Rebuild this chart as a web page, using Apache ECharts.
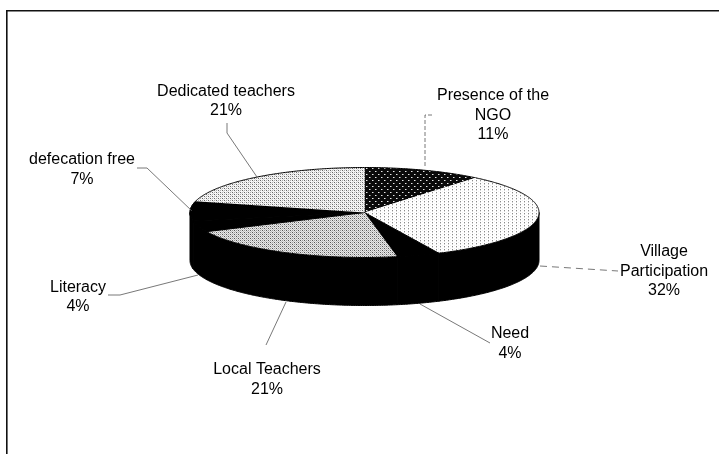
<!DOCTYPE html>
<html><head><meta charset="utf-8">
<style>html,body{margin:0;padding:0;background:#fff}#c{width:719px;height:454px}</style>
<script src="https://cdn.jsdelivr.net/npm/echarts@6/dist/echarts.min.js"></script>
</head><body><div id="c"></div>
<script>
var categories = ['Presence of the\nNGO','Village\nParticipation','Need','Local Teachers','Literacy','defecation free','Dedicated teachers'];
var shares = [11,32,4,21,4,7,21];

// Layout (pixels), kept apart from the data
var labelCentres = [[493,115.5],[664,271.5],[510,343.5],[267,379.5],[78,297],[82,169.5],[226,101]];
var leaderPaths = [
  [[432,115],[425,115],[425,168]],
  [[540,266],[618,271]],
  [[420,304],[490,343]],
  [[286,302],[266,345]],
  [[198,275],[120,295],[108,295]],
  [[137,168],[147,168],[192,211]],
  [[227,123],[227,133],[257,177]]
];
var leaderDash = [[4,2],[7,5],null,null,null,null,null];
var CX=364.5, CY=212.5, RX=174.5, RY=45, DEPTH=48;

function tile(w,h,bg,cells){
  var c=document.createElement('canvas');c.width=w;c.height=h;
  var g=c.getContext('2d');g.fillStyle=bg;g.fillRect(0,0,w,h);
  cells.forEach(function(p){g.fillStyle=p[2];g.fillRect(p[0],p[1],1,1);});
  return {image:c,repeat:'repeat'};
}
var fills = [
  tile(6,6,'#0a0a0a',[[0,0,'#e8e8e8'],[3,3,'#e8e8e8'],[1,0,'#777'],[4,3,'#777']]),
  tile(4,3,'#ffffff',[[0,0,'#8a8a8a'],[0,1,'#d4d4d4'],[2,2,'#eeeeee']]),
  '#000000',
  tile(4,4,'#e8e8e8',[[0,0,'#555'],[2,2,'#555'],[2,0,'#999'],[0,2,'#999'],[1,1,'#bbb'],[3,3,'#bbb'],[1,3,'#ccc'],[3,1,'#ccc']]),
  '#000000',
  '#000000',
  tile(4,4,'#f6f6f6',[[0,0,'#666'],[2,2,'#666'],[2,0,'#aaa'],[0,2,'#aaa'],[1,1,'#d8d8d8'],[3,3,'#d8d8d8']])
];

function rim(a,dy){ return [CX+RX*Math.sin(a), CY-RY*Math.cos(a)+(dy||0)]; }
function arcPoints(a0,a1,dy){
  var pts=[],n=Math.max(2,Math.ceil((a1-a0)/0.01));
  for(var i=0;i<=n;i++) pts.push(rim(a0+(a1-a0)*i/n,dy));
  return pts;
}
var total=shares.reduce(function(s,v){return s+v;},0);

function renderItem(params,api){
  var i=params.dataIndex, v=api.value(0), before=0;
  for(var k=0;k<i;k++) before+=shares[k];
  var a0=before/total*2*Math.PI, a1=(before+v)/total*2*Math.PI;
  var kids=[];
  // side wall: only the part of the slice facing the viewer
  var w0=Math.max(a0,Math.PI/2), w1=Math.min(a1,Math.PI*1.5);
  if(w1>w0){
    var wall=arcPoints(w0,w1,0).concat(arcPoints(w0,w1,DEPTH).reverse());
    kids.push({type:'polygon',shape:{points:wall},style:{fill:'#000',stroke:'#000',lineWidth:1}});
  }
  // top face
  var solid=fills[i]==='#000000';
  var top=[[CX,CY]].concat(arcPoints(a0,a1,0));
  kids.push({type:'polygon',shape:{points:top},
    style:solid?{fill:'#000',stroke:'#000',lineWidth:1}:{fill:fills[i]}});
  kids.push({type:'polyline',shape:{points:arcPoints(a0,a1,0)},style:{fill:'none',stroke:'#000',lineWidth:1}});
  // leader
  kids.push({type:'polyline',shape:{points:leaderPaths[i]},
    style:{fill:'none',stroke:'#555',lineWidth:0.8,lineDash:leaderDash[i]||null}});
  // label
  kids.push({type:'text',style:{
    text:categories[i]+'\n'+v+'%',x:labelCentres[i][0],y:labelCentres[i][1],
    align:'center',verticalAlign:'middle',fill:'#000',
    font:'16px "Liberation Sans", Arial, sans-serif',lineHeight:19.5}});
  return {type:'group',children:kids};
}

var chart=echarts.init(document.getElementById('c'),null,{renderer:'canvas'});
chart.setOption({
  animation:false,
  backgroundColor:'#fff',
  graphic:[{type:'polyline',silent:true,shape:{points:[[6.8,454],[6.8,10.7],[719,10.7]]},
    style:{fill:'none',stroke:'#111',lineWidth:1.6}}],
  series:[{type:'custom',coordinateSystem:'none',silent:true,
    renderItem:renderItem,data:shares.map(function(v){return [v];})}]
});
</script></body></html>
